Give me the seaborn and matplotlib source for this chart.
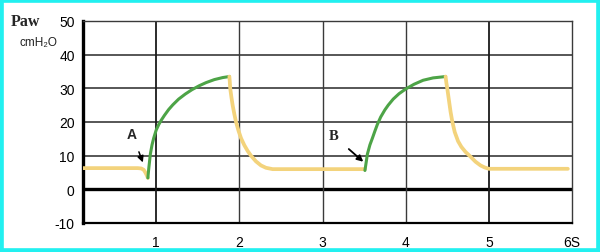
import matplotlib
matplotlib.use("Agg")
import matplotlib.pyplot as plt
from matplotlib.patches import Rectangle
import seaborn as sns
import pandas as pd

# ---- data ----
exp1_x = [0.12, 0.78, 0.82, 0.85, 0.87, 0.89, 0.90]
exp1_y = [6.3, 6.3, 6.2, 5.8, 5.0, 4.0, 3.4]

insp1_x = [0.90, 0.91, 0.93, 0.95, 0.97, 1.00, 1.03, 1.06, 1.10, 1.15, 1.20, 1.27, 1.35,
           1.43, 1.52, 1.60, 1.70, 1.80, 1.88]
insp1_y = [3.4, 6.0, 10.5, 13.2, 15.2, 17.6, 19.2, 20.5, 22.0, 23.7, 25.1, 26.8, 28.3,
           29.6, 30.8, 31.7, 32.6, 33.2, 33.5]

exp2_x = [1.88, 1.885, 1.89, 1.905, 1.92, 1.94, 1.96, 1.99, 2.02, 2.06, 2.10, 2.14, 2.20,
          2.26, 2.32, 2.40, 3.51]
exp2_y = [33.5, 32.0, 30.0, 27.3, 24.9, 22.3, 20.0, 17.4, 15.2, 13.1, 11.4, 10.0, 8.3,
          7.1, 6.4, 6.0, 6.0]

insp2_x = [3.51, 3.52, 3.54, 3.57, 3.60, 3.63, 3.66, 3.70, 3.75, 3.79, 3.85, 3.92, 4.00,
           4.10, 4.21, 4.33, 4.48]
insp2_y = [5.6, 7.2, 10.5, 13.2, 15.2, 17.3, 19.3, 21.5, 23.6, 25.0, 26.8, 28.4, 29.8,
           31.2, 32.4, 33.1, 33.5]

exp3_x = [4.48, 4.49, 4.50, 4.52, 4.54, 4.56, 4.59, 4.63, 4.67, 4.72, 4.78, 4.84, 4.90,
          4.95, 5.00, 5.95]
exp3_y = [33.5, 31.5, 30.0, 26.5, 23.0, 20.2, 17.0, 14.3, 12.6, 11.1, 9.7, 8.2, 7.1,
          6.5, 6.1, 6.1]

y_ticks = [-10, 0, 10, 20, 30, 40, 50]
y_labels = ["-10", "0", "10", "20", "30", "40", "50"]
x_ticks = [1, 2, 3, 4, 5, 6]
x_labels = ["1", "2", "3", "4", "5", "6S"]

GREEN = "#4DA447"
YELLOW = "#F3D37C"

sns.set_style("white")
plt.rcParams["font.family"] = ["Liberation Sans", "DejaVu Sans"]

fig = plt.figure(figsize=(6.0, 2.53), dpi=100)
ax = fig.add_axes([83 / 600, 1 - 224 / 253, (572 - 83) / 600, (224 - 22) / 253])

# grid
for yv in [10, 20, 30, 40]:
    ax.axhline(yv, color="#3a3a3a", lw=1.2, zorder=1)
ax.axhline(0, color="black", lw=2.4, zorder=1)
for xv in [1, 2, 3, 4, 5]:
    ax.axvline(xv, color="#1a1a1a" if xv in (1, 5) else "#3a3a3a",
               lw=1.3 if xv in (1, 5) else 1.0, zorder=1)

segments = [
    (exp1_x, exp1_y, YELLOW, 2.7),
    (insp1_x, insp1_y, GREEN, 2.2),
    (exp2_x, exp2_y, YELLOW, 2.7),
    (insp2_x, insp2_y, GREEN, 2.2),
    (exp3_x, exp3_y, YELLOW, 2.7),
]
for xs, ys, c, lw in segments:
    df = pd.DataFrame({"t": xs, "p": ys})
    sns.lineplot(data=df, x="t", y="p", sort=False, color=c, lw=lw, ax=ax,
                 zorder=3, solid_capstyle="round", solid_joinstyle="round")

ax.set_xlim(0.12, 6.0)
ax.set_ylim(-10, 50)
ax.set_xticks(x_ticks)
ax.set_xticklabels(x_labels)
ax.set_yticks(y_ticks)
ax.set_yticklabels(y_labels)
ax.set_xlabel("")
ax.set_ylabel("")
ax.tick_params(axis="x", length=2, width=1, pad=7, labelsize=10, colors="black")
ax.tick_params(axis="y", length=0, pad=6, labelsize=10, colors="black")

for s in ["top", "right"]:
    ax.spines[s].set_color("#3a3a3a")
    ax.spines[s].set_linewidth(1.0)
ax.spines["left"].set_color("black")
ax.spines["left"].set_linewidth(2.4)
ax.spines["bottom"].set_color("black")
ax.spines["bottom"].set_linewidth(1.6)

# annotations
ax.annotate("A", xy=(0.84, 8.0), xytext=(0.71, 16.5), fontsize=10, fontweight="bold",
            ha="center", va="center",
            arrowprops=dict(arrowstyle="-|>", color="black", lw=1.1, mutation_scale=9,
                            shrinkA=6, shrinkB=0))
ax.annotate("B", xy=(3.49, 8.2), xytext=(3.13, 16.0), fontsize=10.5, fontweight="bold",
            family=["Liberation Serif"], ha="center", va="center",
            arrowprops=dict(arrowstyle="-|>", color="black", lw=1.3, mutation_scale=9,
                            shrinkA=7, shrinkB=0))

fig.text(25 / 600, 1 - 22 / 253, "Paw", family=["Liberation Serif"], fontweight="bold",
         fontsize=11.5, ha="center", va="center")
fig.text(38 / 600, 1 - 43 / 253, "cmH₂O", fontsize=8.5, ha="center", va="center",
         color="#222222")

fig.patches.append(Rectangle((0, 0), 1, 1, transform=fig.transFigure, fill=False,
                             edgecolor="#22F0F0", linewidth=5.5, zorder=10))

fig.savefig("out.png", dpi=100, facecolor="white")
